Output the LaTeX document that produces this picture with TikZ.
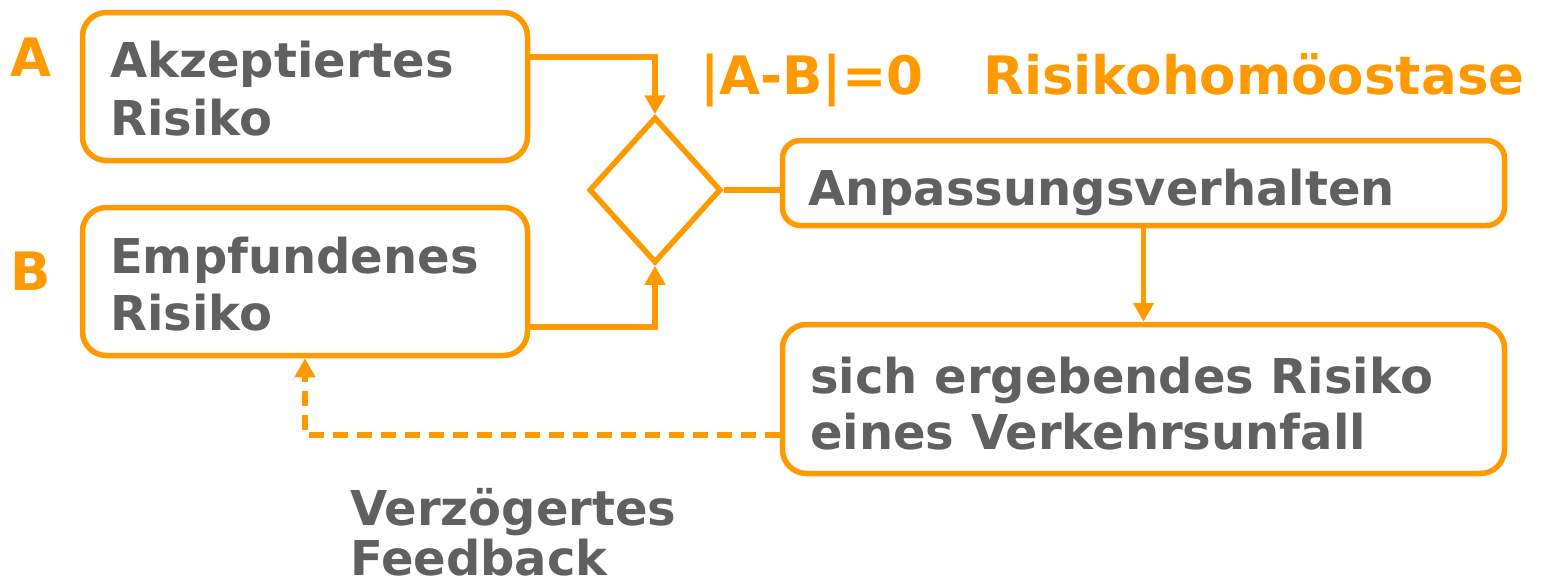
\documentclass[tikz,border=0pt]{standalone}
\usepackage{fontspec}
\setmainfont{DejaVu Sans}
\usetikzlibrary{arrows.meta,shapes.geometric,calc}
\definecolor{orng}{RGB}{255,153,0}
\definecolor{txtgray}{RGB}{96,96,96}
\begin{document}
\begin{tikzpicture}[x=1pt,y=-1pt,
  box/.style={draw=orng,line width=5.5pt,rounded corners=24pt,inner sep=0pt,fill=white},
  decide/.style={draw=orng,line width=5.5pt,diamond,inner sep=0pt,minimum width=132pt,minimum height=146pt},
  conn/.style={draw=orng,line width=5.5pt},
  arr/.style={conn,-{Triangle[width=20pt,length=19pt]}},
  fb/.style={arr,dash pattern=on 15pt off 9pt},
  txt/.style={anchor=base west,inner sep=0pt,text=txtgray,font=\bfseries\fontsize{48}{56}\selectfont},
  otxt/.style={anchor=base west,inner sep=0pt,text=orng,font=\bfseries\fontsize{53}{60}\selectfont}]
\useasboundingbox (0,0) rectangle (1542,584);
% boxes
\node[box,minimum width=445pt,minimum height=148pt] (A) at (305,86.5) {};
\node[box,minimum width=445pt,minimum height=148pt] (B) at (305,281.5) {};
\node[decide] (D) at (655,190) {};
\node[box,rounded corners=18pt,minimum width=722pt,minimum height=85pt] (P) at (1143.5,183) {};
\node[box,minimum width=722pt,minimum height=149pt] (L) at (1143.5,399) {};
% connectors
\draw[arr] ($(A.east)+(0,-29.5)$) -| (D.north);
\draw[arr] ($(B.east)+(0,45.5)$) -| (D.south);
\draw[conn] (D.east) -- (D.east -| P.west);
\draw[arr] (P.south) -- (L.north);
\draw[fb] ($(L.west)+(0,36)$) -| (B.south);
% texts
\node[txt] (a1) at (110,77) {Akzeptiertes};
\node[txt] (a2) at (110,135) {Risiko};
\node[txt] (b1) at (110,273) {Empfundenes};
\node[txt] (b2) at (110,330) {Risiko};
\node[txt] (p1) at (808,205) {Anpassungsverhalten};
\node[txt] (l1) at (810,393) {sich ergebendes Risiko};
\node[txt] (l2) at (810,449) {eines Verkehrsunfall};
\node[txt] (f1) at (350,525) {Verzögertes};
\node[txt] (f2) at (350,575) {Feedback};
\node[otxt] (la) at (10,76) {A};
\node[otxt] (lb) at (10,290) {B};
\node[otxt] (t1) at (700,94) {|A-B|=0};
\node[otxt] (t2) at (983,94) {Risikohomöostase};
\end{tikzpicture}
\end{document}
